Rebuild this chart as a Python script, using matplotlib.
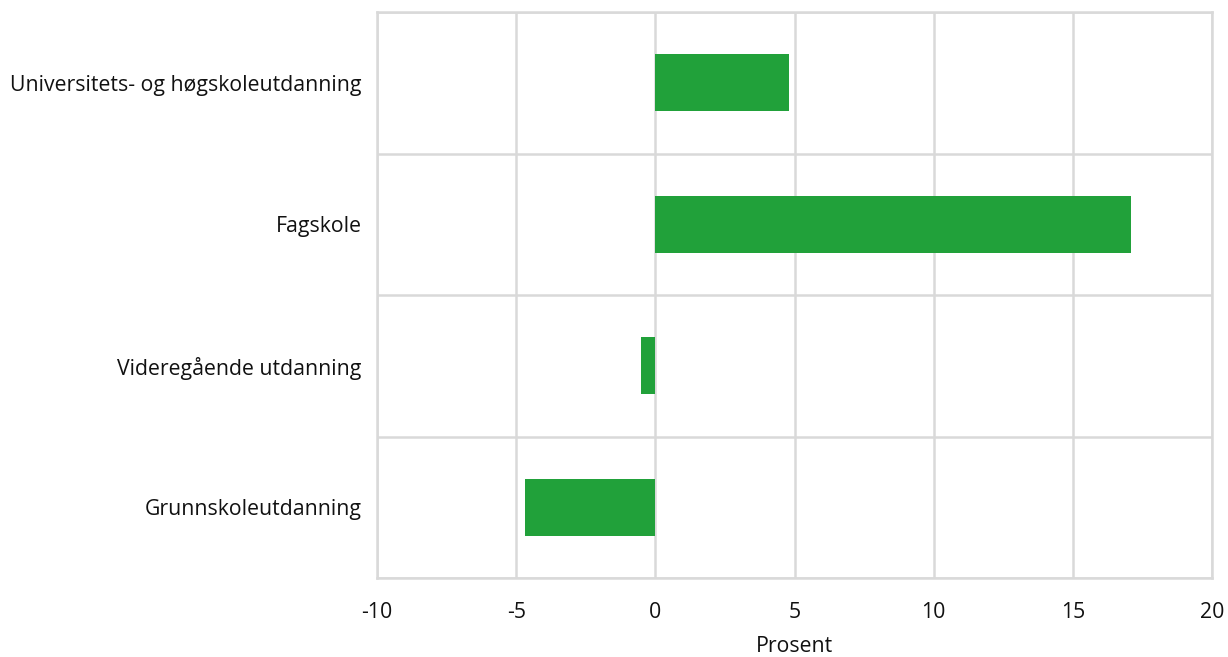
import numpy as np
import matplotlib.pyplot as plt

categories = ['Universitets- og høgskoleutdanning', 'Fagskole', 'Videregående utdanning', 'Grunnskoleutdanning']
values = [4.8, 17.1, -0.5, -4.7]
xticks = [-10, -5, 0, 5, 10, 15, 20]

plt.rcParams['font.family'] = ['Open Sans', 'DejaVu Sans']

fig = plt.figure(figsize=(12.28, 6.57), dpi=100)
ax = fig.add_axes([377 / 1228, 1 - 578 / 657, (1212 - 377) / 1228, (578 - 12) / 657])

y = np.arange(len(categories))
ax.barh(y, values, height=0.4, color='#21a13a', zorder=3)

ax.set_xlim(-10, 20)
ax.set_ylim(len(categories) - 0.5, -0.5)
ax.set_xticks(xticks)
ax.set_xticklabels([str(t) for t in xticks])
ax.set_yticks(y)
ax.set_yticklabels(categories)
ax.set_yticks(np.arange(len(categories) + 1) - 0.5, minor=True)

grid_col = '#d9d9d9'
ax.set_axisbelow(True)
ax.grid(axis='x', which='major', color=grid_col, linewidth=1.8)
ax.grid(axis='y', which='minor', color=grid_col, linewidth=1.8)
for s in ax.spines.values():
    s.set_color(grid_col)
    s.set_linewidth(1.8)

ax.tick_params(axis='both', which='both', length=0, labelsize=15.3, colors='#111111')
ax.tick_params(axis='x', pad=17)
ax.tick_params(axis='y', pad=11)
ax.set_xlabel('Prosent', fontsize=15.3, color='#111111', labelpad=10)

fig.savefig('out.png', dpi=100)
